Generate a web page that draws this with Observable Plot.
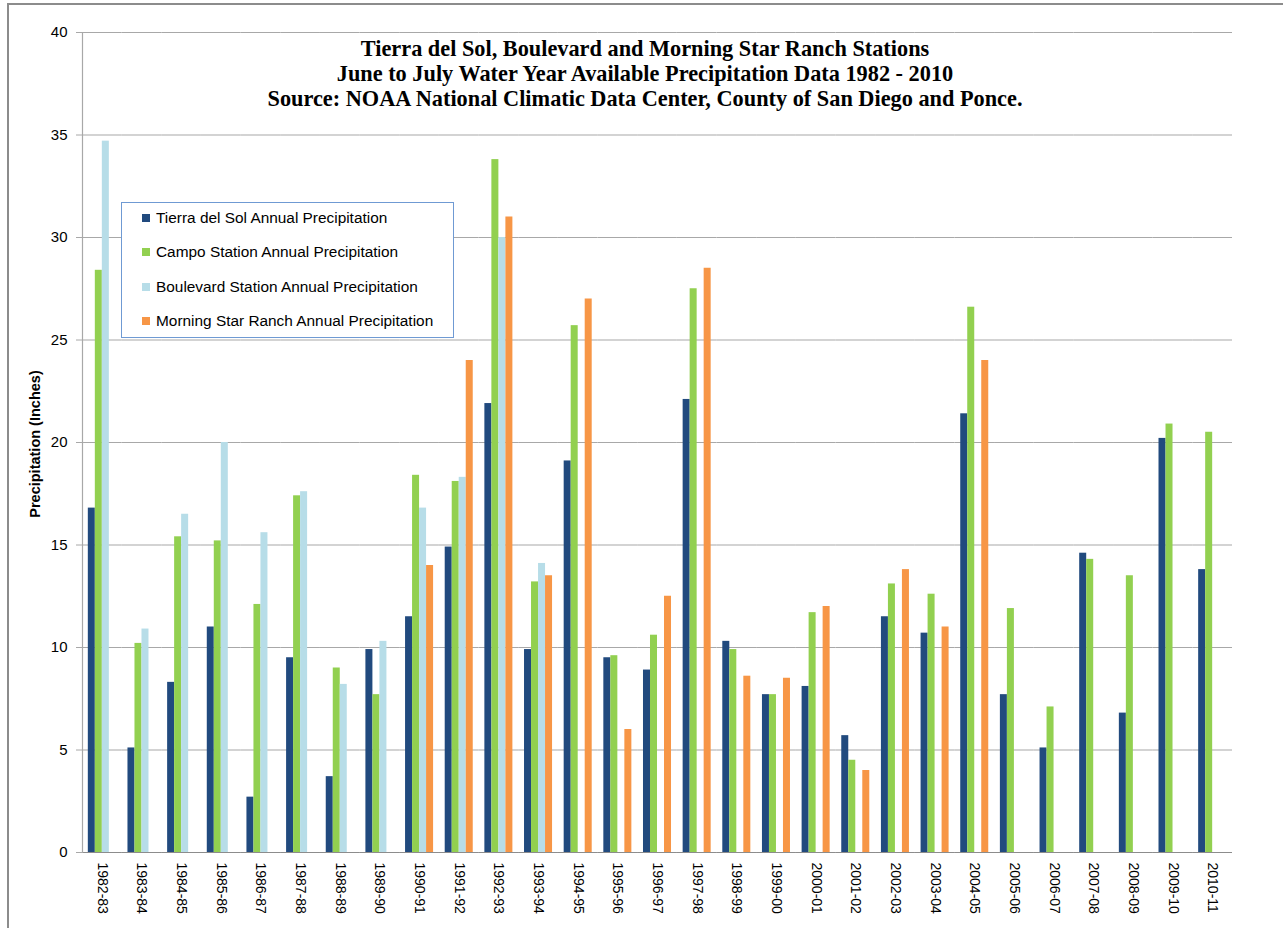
<!DOCTYPE html>
<html>
<head>
<meta charset="utf-8">
<script src="https://cdn.jsdelivr.net/npm/d3@7"></script>
<script src="https://cdn.jsdelivr.net/npm/@observablehq/plot@0.6"></script>
<style>
  body { margin: 0; background: #fff; }
  #wrap { position: relative; width: 1283px; height: 928px; overflow: hidden; font-family: "Liberation Sans", Arial, sans-serif; }
  #border { position: absolute; left: 7px; top: 3px; right: -5px; bottom: -5px; border-top: 2px solid #8c8c8c; border-left: 2px solid #8c8c8c; }
  #title { position: absolute; left: 0; width: 1290px; top: 36px; text-align: center; font-family: "Liberation Serif", "Times New Roman", serif; font-weight: bold; font-size: 22.3px; line-height: 25px; color: #000; }
  #ylabel { position: absolute; left: 35px; top: 444px; transform: translate(-50%, -50%) rotate(-90deg); white-space: nowrap; font-weight: bold; font-size: 14.5px; color: #000; }
  #legend { position: absolute; left: 121px; top: 202px; width: 331px; height: 134px; border: 1px solid #6f9ad3; background: #fff; }
  .item { position: absolute; left: 20px; height: 20px; line-height: 20px; font-size: 15.4px; color: #000; white-space: nowrap; }
  .sw { display: inline-block; width: 8px; height: 8px; margin-right: 6px; vertical-align: 1px; }
  #chart { position: absolute; left: 0; top: 0; }
</style>
</head>
<body>
<div id="wrap">
  <div id="border"></div>
  <div id="chart"></div>
  <div id="title"></div>
  <div id="ylabel">Precipitation (Inches)</div>
  <div id="legend"></div>
</div>
<script>
const titleLines = [
  "Tierra del Sol, Boulevard and Morning Star Ranch Stations",
  "June to July Water Year Available Precipitation Data 1982 - 2010",
  "Source: NOAA National Climatic Data Center, County of San Diego and Ponce."
];
const years = ["1982-83","1983-84","1984-85","1985-86","1986-87","1987-88","1988-89","1989-90","1990-91","1991-92",
  "1992-93","1993-94","1994-95","1995-96","1996-97","1997-98","1998-99","1999-00","2000-01","2001-02",
  "2002-03","2003-04","2004-05","2005-06","2006-07","2007-08","2008-09","2009-10","2010-11"];
const series = ["Tierra del Sol Annual Precipitation","Campo Station Annual Precipitation","Boulevard Station Annual Precipitation","Morning Star Ranch Annual Precipitation"];
const legendLabels = ["Tierra del Sol Annual Precipitation","Campo Station Annual Precipitation","Boulevard Station Annual Precipitation","Morning Star Ranch Annual Precipitation"];
const colors = ["#214a7e","#92d050","#b7dde8","#f79646"];
const tierraDelSol = [16.8,5.1,8.3,11.0,2.7,9.5,3.7,9.9,11.5,14.9,21.9,9.9,19.1,9.5,8.9,22.1,10.3,7.7,8.1,5.7,11.5,10.7,21.4,7.7,5.1,14.6,6.8,20.2,13.8];
const campo = [28.4,10.2,15.4,15.2,12.1,17.4,9.0,7.7,18.4,18.1,33.8,13.2,25.7,9.6,10.6,27.5,9.9,7.7,11.7,4.5,13.1,12.6,26.6,11.9,7.1,14.3,13.5,20.9,20.5];
const boulevard = [34.7,10.9,16.5,20.0,15.6,17.6,8.2,10.3,16.8,18.3,30.0,14.1,null,null,null,null,null,null,null,null,null,null,null,null,null,null,null,null,null];
const morningStar = [null,null,null,null,null,null,null,null,14.0,24.0,31.0,13.5,27.0,6.0,12.5,28.5,8.6,8.5,12.0,4.0,13.8,11.0,24.0,null,null,null,null,null,null];
const yTicks = [0,5,10,15,20,25,30,35,40];

const valueSets = [tierraDelSol, campo, boulevard, morningStar];
const table = years.flatMap((yr, i) => series.map((s, k) => ({year: yr, series: s, value: valueSets[k][i]})))
  .filter(d => d.value != null);

document.getElementById("title").innerHTML = titleLines.map(t => `<div>${t}</div>`).join("");
const leg = document.getElementById("legend");
legendLabels.forEach((lab, k) => {
  const el = document.createElement("div");
  el.className = "item";
  el.style.top = (5 + k * 34.4) + "px";
  el.innerHTML = `<span class="sw" style="background:${colors[k]}"></span>${lab}`;
  leg.appendChild(el);
});

const chart = Plot.plot({
  width: 1283,
  height: 928,
  marginLeft: 82,
  marginRight: 51,
  marginTop: 32,
  marginBottom: 76,
  style: {fontFamily: "'Liberation Sans', Arial, sans-serif", fontSize: "14px", color: "#000", background: "transparent", overflow: "visible"},
  fx: {domain: years, padding: 0, round: false, label: null},
  x: {domain: series, paddingInner: 0, paddingOuter: 0.83, round: false, axis: null},
  y: {domain: [0, 40], label: null},
  color: {domain: series, range: colors},
  marks: [
    Plot.gridY(yTicks, {stroke: "#a8a8a8", strokeOpacity: 1, strokeWidth: 1.2}),
    Plot.barY(table, {fx: "year", x: "series", y: "value", fill: "series"}),
    Plot.ruleY([0], {stroke: "#8c8c8c", strokeWidth: 1.2}),
    Plot.frame({anchor: "left", facetAnchor: "left", stroke: "#a8a8a8", strokeWidth: 1.2}),
    Plot.axisY(yTicks, {tickSize: 6, tickPadding: 9, stroke: "#a8a8a8", fill: "#000", fontSize: 15, label: null}),
    Plot.axisFx({anchor: "bottom", tickRotate: 90, tickSize: 0, tickPadding: 10, fontSize: 14, fill: "#000", label: null})
  ]
});
document.getElementById("chart").appendChild(chart);
</script>
</body>
</html>
